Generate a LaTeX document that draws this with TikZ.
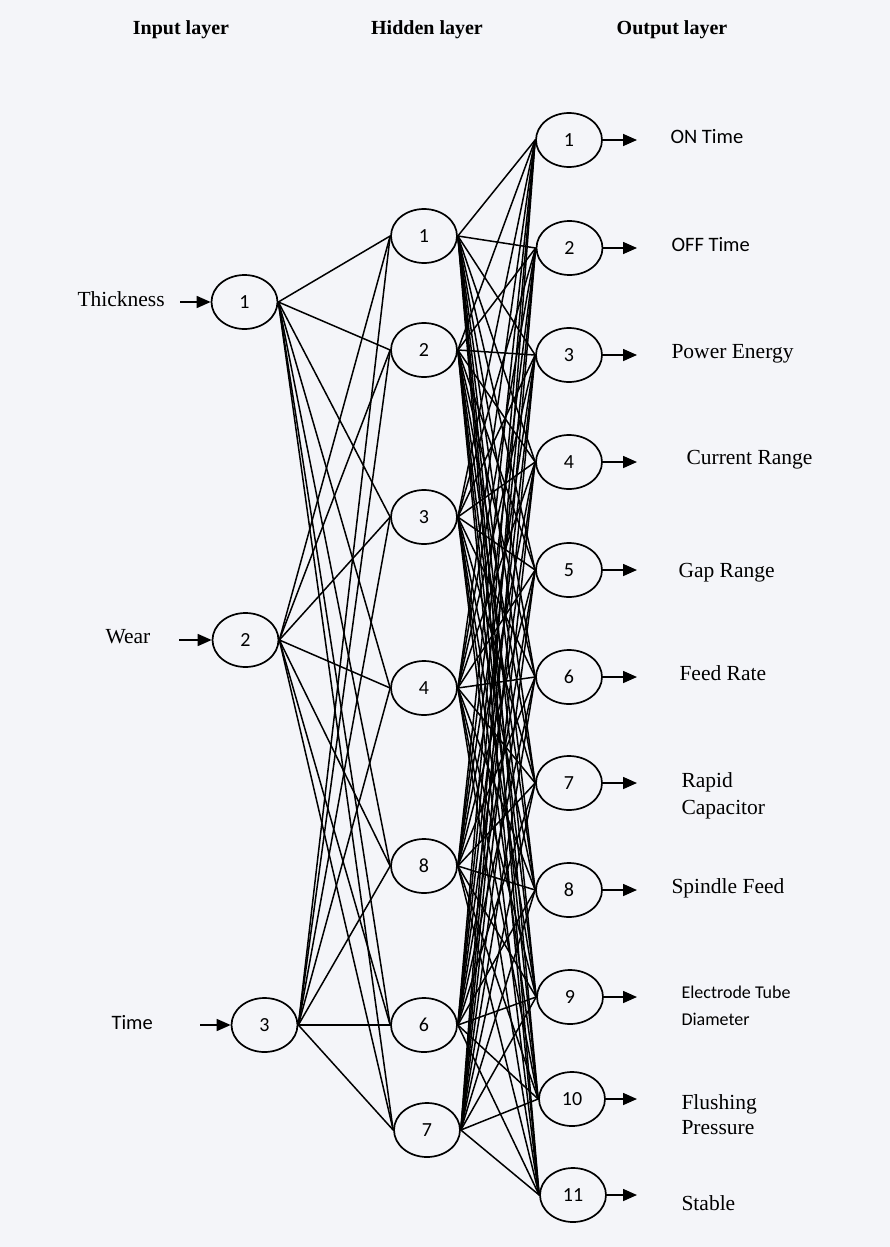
\documentclass[tikz,border=0pt]{standalone}
\usepackage{fontspec}
\setmainfont{Liberation Serif}
\newfontfamily\calib{Carlito}
\usetikzlibrary{shapes.geometric,arrows.meta}
\definecolor{paper}{RGB}{244,245,249}
\tikzset{
  neuron/.style={ellipse,draw=black,line width=1.7pt,minimum width=66pt,minimum height=54pt,inner sep=0pt,font=\calib\fontsize{20}{20}\selectfont},
  link/.style={line width=1.5pt},
  io/.style={line width=1.6pt,-{Triangle[length=14pt,width=12pt]}},
  head/.style={anchor=base,font=\bfseries\fontsize{20}{22}\selectfont},
  serlab/.style={anchor=base west,font=\fontsize{21.5}{24}\selectfont},
  sanlab/.style={anchor=base west,font=\calib\fontsize{20.5}{24}\selectfont},
  sanlabs/.style={anchor=base west,font=\calib\fontsize{18}{20}\selectfont}
}
\begin{document}
\begin{tikzpicture}[x=1pt,y=-1pt]
\fill[paper] (0,0) rectangle (890,1247);
\useasboundingbox (0,0) rectangle (890,1247);
% headers
\node[head] (hin) at (181,35) {Input layer};
\node[head] (hhid) at (427,35) {Hidden layer};
\node[head] (hout) at (672,35) {Output layer};
% input nodes
\node[neuron] (i1) at (244.5,302) {1};
\node[neuron] (i2) at (245.5,640) {2};
\node[neuron] (i3) at (264.5,1025) {3};
% hidden nodes
\node[neuron] (h1) at (424,236) {1};
\node[neuron] (h2) at (424,350) {2};
\node[neuron] (h3) at (424,517) {3};
\node[neuron] (h4) at (424,688) {4};
\node[neuron] (h5) at (424,866) {8};
\node[neuron] (h6) at (424,1025) {6};
\node[neuron] (h7) at (427,1130) {7};
% output nodes
\node[neuron] (o1) at (569,140) {1};
\node[neuron] (o2) at (569.5,248) {2};
\node[neuron] (o3) at (569,355) {3};
\node[neuron] (o4) at (569,462) {4};
\node[neuron] (o5) at (569,570) {5};
\node[neuron] (o6) at (569,677) {6};
\node[neuron] (o7) at (569,783) {7};
\node[neuron] (o8) at (569,890) {8};
\node[neuron] (o9) at (570,997) {9};
\node[neuron] (o10) at (572,1099) {10};
\node[neuron] (o11) at (573,1195) {11};
% connections
\foreach \a in {1,2,3}{\foreach \b in {1,...,7}{\draw[link] (i\a.east) -- (h\b.west);}}
\foreach \a in {1,...,7}{\foreach \b in {1,...,11}{\draw[link] (h\a.east) -- (o\b.west);}}
% input labels and arrows
\node[serlab] (lthick) at (74,306) {Thickness};
\node[serlab] (lwear) at (102,643) {Wear};
\node[sanlab] (ltime) at (108,1029) {Time};
\coordinate (ai1) at (180,302);
\coordinate (ai2) at (179,640);
\coordinate (ai3) at (200,1025);
\draw[io] (ai1) -- (i1.west);
\draw[io] (ai2) -- (i2.west);
\draw[io] (ai3) -- (i3.west);
% output arrows
\foreach \b/\y in {1/140,2/248,3/355,4/462,5/570,6/677,7/783,8/890,9/997,10/1099,11/1195}{
  \coordinate (ao\b) at (637,\y);
  \draw[io] (o\b.east) -- (ao\b);
}
% output labels
\node[sanlab] (l1) at (667,143) {ON Time};
\node[sanlab] (l2) at (668,251) {OFF Time};
\node[serlab] (l3) at (668,358) {Power Energy};
\node[serlab] (l4) at (683,464) {Current Range};
\node[serlab] (l5) at (675,577) {Gap Range};
\node[serlab] (l6) at (676,680) {Feed Rate};
\node[serlab] (l7a) at (678,787) {Rapid};
\node[serlab] (l7b) at (678,814) {Capacitor};
\node[serlab] (l8) at (668,893) {Spindle Feed};
\node[sanlabs] (l9a) at (678,998) {Electrode Tube};
\node[sanlabs] (l9b) at (678,1025) {Diameter};
\node[serlab] (l10a) at (678,1109) {Flushing};
\node[serlab] (l10b) at (678,1134) {Pressure};
\node[serlab] (l11) at (678,1210) {Stable};
\end{tikzpicture}
\end{document}
